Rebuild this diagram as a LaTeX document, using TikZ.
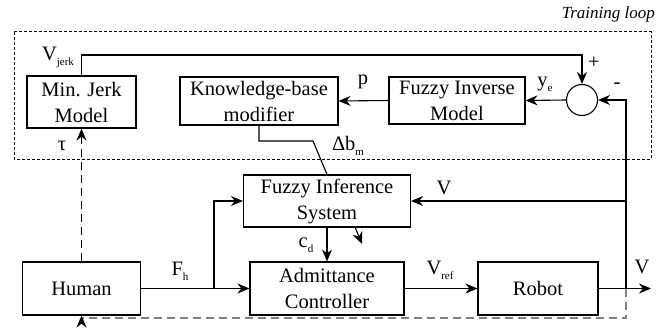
\documentclass[tikz,border=0pt]{standalone}
\usepackage{fontspec}
\setmainfont{Liberation Serif}
\newfontfamily\tms{Liberation Serif}
\usetikzlibrary{arrows.meta,calc}
\newcommand{\sbs}[1]{\raisebox{-5pt}{\fontsize{11}{11}\selectfont #1}}
\begin{document}
\begin{tikzpicture}[x=1pt,y=-1pt,
  blk/.style={draw,line width=1.1pt,inner sep=0pt,align=center,font=\tms\fontsize{20.5}{26}\selectfont},
  arr/.style={line width=1.1pt,-{Stealth[length=12pt,width=10pt]}},
  ln/.style={line width=1.1pt},
  lbl/.style={font=\tms\fontsize{20.5}{24}\selectfont,inner sep=0pt}]
\useasboundingbox (0,0) rectangle (671,334);
% training loop
\draw[line width=1pt,dash pattern=on 3pt off 2pt] (14,32) rectangle (651,159);
\node[font=\tms\fontsize{17}{20}\selectfont\itshape,anchor=east,inner sep=0pt] (tl) at (655,14) {Training loop};
% blocks
\node[blk,minimum width=109pt,minimum height=52pt] (mj) at (81.5,102) {Min. Jerk\\Model};
\node[blk,minimum width=158pt,minimum height=48pt] (kb) at (259,101) {Knowledge-base\\modifier};
\node[blk,minimum width=136pt,minimum height=47pt] (fim) at (457,100.5) {Fuzzy Inverse\\Model};
\node[draw,line width=1.1pt,circle,minimum size=31pt,inner sep=0pt] (sum) at (582,100) {};
\node[blk,minimum width=167pt,minimum height=52pt] (fis) at (327,201) {Fuzzy Inference\\System};
\node[blk,minimum width=154pt,minimum height=53pt] (ac) at (327,288.5) {Admittance\\Controller};
\node[blk,minimum width=118pt,minimum height=53pt] (hum) at (81.5,288.5) {Human};
\node[blk,minimum width=120pt,minimum height=53pt] (rob) at (538,288.5) {Robot};
% coordinates
\coordinate (vj) at (582,55);
\coordinate (db1) at (259,141);
\coordinate (db2) at (313,141);
\coordinate (br) at (214,288.5);
\coordinate (vt) at (626,288.5);
\coordinate (vf) at (626,201);
\coordinate (out) at (651,288.5);
\coordinate (dg1) at (355,227);
\coordinate (dg2) at (362,244);
\coordinate (dc) at (626,318);
\coordinate (dh) at (81.5,318);
% connectors
\draw[arr] (mj.north) |- (vj) -- (sum.north);
\draw[arr] (sum.west) -- (fim.east);
\draw[arr] (fim.west) -- (kb.east);
\draw[ln] (kb.south) -- (db1) -- (db2) -- (fis.north);
\draw[arr] (hum.east) -- (ac.west);
\draw[arr] (br) |- (fis.west);
\draw[arr] (fis.south) -- (ac.north);
\draw[arr] (dg1) -- (dg2);
\draw[arr] (ac.east) -- (rob.west);
\draw[arr] (rob.east) -- (out);
\draw[arr] (vt) |- (sum.east);
\draw[arr] (vf) -- (fis.east);
\draw[line width=1.1pt,-{Stealth[length=12pt,width=10pt]},dash pattern=on 8pt off 5pt] (hum.north) -- (mj.south);
\draw[line width=1.1pt,gray,dash pattern=on 8pt off 5pt] (vt) -- (dc) -- (dh);
\draw[line width=1.1pt,-{Stealth[length=12pt,width=10pt]},dash pattern=on 8pt off 5pt] (dh) -- (hum.south);
% labels
\node[lbl] (lvj) at (58,57) {V\sbs{jerk}};
\node[lbl] (ltau) at (62,146) {τ};
\node[lbl] (lp) at (363,82) {p};
\node[lbl] (lye) at (545,84) {y\sbs{e}};
\node[lbl] (lplus) at (594,63) {+};
\node[lbl] (lminus) at (617,86) {-};
\node[lbl] (ldb) at (348,146) {Δb\sbs{m}};
\node[lbl] (lv1) at (444,188) {V};
\node[lbl] (lcd) at (306,245) {c\sbs{d}};
\node[lbl] (lfh) at (180,271) {F\sbs{h}};
\node[lbl] (lvr) at (440,270) {V\sbs{ref}};
\node[lbl] (lv2) at (642,267) {V};
\end{tikzpicture}
\end{document}
